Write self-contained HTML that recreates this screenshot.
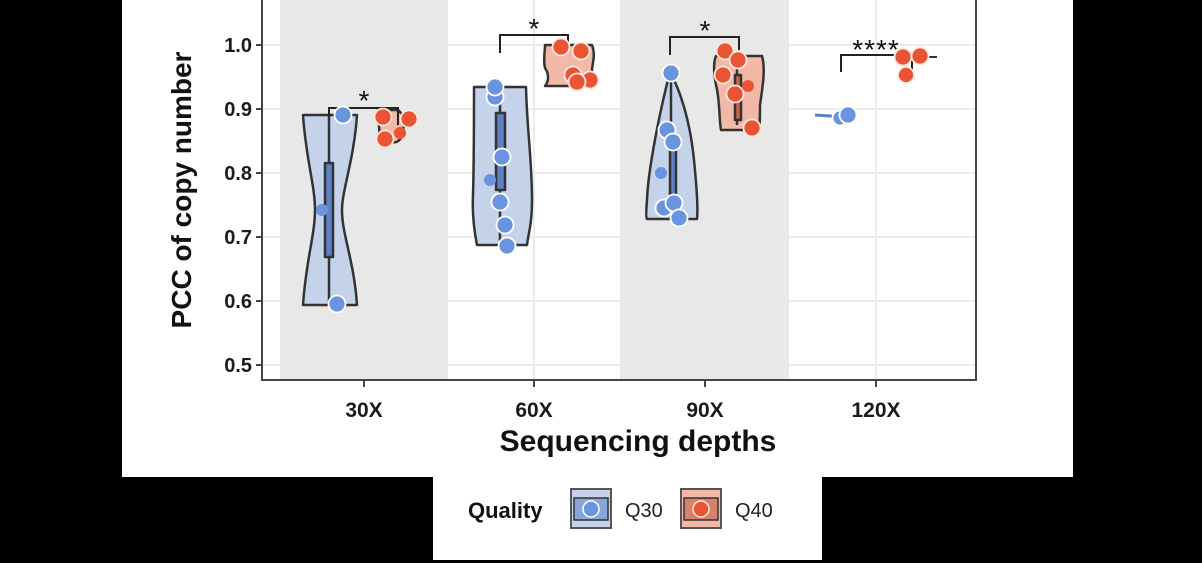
<!DOCTYPE html>
<html><head><meta charset="utf-8"><style>
html,body{margin:0;padding:0;background:#000;}
svg{display:block;}
text{font-family:"Liberation Sans",Arial,sans-serif;}
</style></head><body>
<svg width="1202" height="563" viewBox="0 0 1202 563" xmlns="http://www.w3.org/2000/svg">
<rect x="0" y="0" width="1202" height="563" fill="#000"/>
<rect x="122" y="0" width="951" height="477" fill="#fff"/>
<rect x="433" y="477" width="389" height="83" fill="#fff"/>
<rect x="280" y="0" width="168" height="380" fill="#e8e8e8"/>
<rect x="620" y="0" width="169" height="380" fill="#e8e8e8"/>
<g stroke="#ebebeb" stroke-width="2">
<line x1="448" y1="45" x2="620" y2="45"/><line x1="789" y1="45" x2="975" y2="45"/>
<line x1="448" y1="109" x2="620" y2="109"/><line x1="789" y1="109" x2="975" y2="109"/>
<line x1="448" y1="173" x2="620" y2="173"/><line x1="789" y1="173" x2="975" y2="173"/>
<line x1="448" y1="237" x2="620" y2="237"/><line x1="789" y1="237" x2="975" y2="237"/>
<line x1="448" y1="301" x2="620" y2="301"/><line x1="789" y1="301" x2="975" y2="301"/>
<line x1="448" y1="365" x2="620" y2="365"/><line x1="789" y1="365" x2="975" y2="365"/>
<line x1="263" y1="45" x2="280" y2="45"/><line x1="263" y1="109" x2="280" y2="109"/><line x1="263" y1="173" x2="280" y2="173"/><line x1="263" y1="237" x2="280" y2="237"/><line x1="263" y1="301" x2="280" y2="301"/><line x1="263" y1="365" x2="280" y2="365"/>
<line x1="534" y1="0" x2="534" y2="380"/><line x1="876" y1="0" x2="876" y2="380"/>
</g>
<polyline points="262,0 262,380 976,380 976,0" fill="none" stroke="#444" stroke-width="2"/>
<g stroke="#444" stroke-width="2">
<line x1="256" y1="45" x2="262" y2="45"/><line x1="256" y1="109" x2="262" y2="109"/><line x1="256" y1="173" x2="262" y2="173"/><line x1="256" y1="237" x2="262" y2="237"/><line x1="256" y1="301" x2="262" y2="301"/><line x1="256" y1="365" x2="262" y2="365"/>
<line x1="364" y1="380" x2="364" y2="387"/><line x1="534" y1="380" x2="534" y2="387"/><line x1="705" y1="380" x2="705" y2="387"/><line x1="876" y1="380" x2="876" y2="387"/>
</g>
<g font-size="20" font-weight="bold" fill="#1a1a1a" text-anchor="end">
<text x="252" y="52">1.0</text><text x="252" y="116">0.9</text><text x="252" y="180">0.8</text><text x="252" y="244">0.7</text><text x="252" y="308">0.6</text><text x="252" y="372">0.5</text>
</g>
<g font-size="21" font-weight="bold" fill="#1a1a1a" text-anchor="middle">
<text x="364" y="417">30X</text><text x="534" y="417">60X</text><text x="705" y="417">90X</text><text x="876" y="417">120X</text>
</g>
<text x="638" y="451" font-size="30" font-weight="bold" fill="#111" text-anchor="middle">Sequencing depths</text>
<text transform="translate(191,190) rotate(-90)" font-size="28" font-weight="bold" fill="#111" text-anchor="middle">PCC of copy number</text>

<g stroke="#333" stroke-width="2.5" stroke-linejoin="round">
<path d="M303,115 L357,115 C354,160 342,190 342,210 C342,235 354,260 357,305 L303,305 C306,260 315,235 315,210 C315,185 306,160 303,115 Z" fill="#c5d3ea"/>
<line x1="329" y1="115" x2="329" y2="305"/>
<rect x="325" y="163" width="8" height="94" fill="#5d7fc4"/>
<path d="M378,110 L398,110 C405,115 405,125 402,135 C400,142 395,143 392,142 L380,142 Z" fill="#f2b8a8"/>
<path d="M474,87 L526,87 C527,130 532,160 532,200 C532,225 528,235 527,245 L477,245 C474,230 472,215 473,195 C474,160 474,120 474,87 Z" fill="#c5d3ea"/>
<line x1="500" y1="87" x2="500" y2="245"/>
<rect x="496" y="113" width="9" height="77" fill="#5d7fc4"/>
<path d="M545,45 L592,45 C596,55 592,65 592,70 C592,78 596,82 590,86 L545,86 C550,80 548,72 545,68 C543,60 545,52 545,45 Z" fill="#f2b8a8"/>
<path d="M670,72 C660,110 648,170 647,200 C646,212 646,218 647,219 L697,219 C698,210 697,190 694,160 C690,120 680,90 670,72 Z" fill="#c5d3ea"/>
<line x1="671" y1="72" x2="671" y2="219"/>
<rect x="670" y="150" width="6" height="45" fill="#5d7fc4"/>
<path d="M716,56 L762,56 C766,70 762,90 760,105 C760,118 760,128 758,130 L721,130 C719,120 720,100 716,85 C713,70 714,60 716,56 Z" fill="#f2b8a8"/>
<line x1="737" y1="60" x2="737" y2="125"/>
<rect x="735" y="75" width="6" height="45" fill="#c4654a"/>
</g>
<g stroke="#222" stroke-width="2" fill="none">
<polyline points="329,117 329,108 398,108 398,125"/>
<polyline points="500,53 500,35 568,35 568,48"/>
<polyline points="670,55 670,37 739,37 739,50"/>
<polyline points="841,72 841,55 912,55 912,70"/>
</g>
<g font-size="28" fill="#111" text-anchor="middle">
<text x="364" y="110">*</text><text x="534" y="38">*</text><text x="705" y="40">*</text><text x="876" y="59" letter-spacing="1">****</text>
</g>
<line x1="815" y1="115" x2="845" y2="117" stroke="#5d7fc4" stroke-width="3"/>
<line x1="915" y1="57" x2="937" y2="57" stroke="#333" stroke-width="2"/>
<g fill="#6b94e0" stroke="#fff" stroke-width="1.8">
<circle cx="343" cy="115" r="8.5"/><circle cx="322" cy="210" r="6" stroke="none"/><circle cx="337" cy="304" r="8.5"/>
<circle cx="495" cy="97" r="8.5"/><circle cx="495" cy="87" r="8.5"/><circle cx="502" cy="157" r="8.5"/><circle cx="490" cy="180" r="6" stroke="none"/><circle cx="500" cy="202" r="8.5"/><circle cx="505" cy="225" r="8.5"/><circle cx="507" cy="246" r="8.5"/>
<circle cx="671" cy="73" r="8.5"/><circle cx="667" cy="130" r="8.5"/><circle cx="673" cy="142" r="8.5"/><circle cx="661" cy="173" r="6" stroke="none"/><circle cx="664" cy="208" r="8.5"/><circle cx="674" cy="203" r="8.5"/><circle cx="679" cy="218" r="8.5"/>
<circle cx="840" cy="118" r="7.5"/><circle cx="848" cy="115" r="8.5"/>
</g>
<g fill="#ea5434" stroke="#fde8df" stroke-width="1.8">
<circle cx="383" cy="117" r="8.5"/><circle cx="409" cy="119" r="8.5"/><circle cx="385" cy="139" r="8.5"/><circle cx="400" cy="133" r="6" stroke="none"/>
<circle cx="561" cy="47" r="8.5"/><circle cx="581" cy="51" r="8.5"/><circle cx="573" cy="75" r="8.5"/><circle cx="590" cy="80" r="8.5"/><circle cx="577" cy="82" r="8.5"/>
<circle cx="725" cy="51" r="8.5"/><circle cx="738" cy="60" r="8.5"/><circle cx="723" cy="75" r="8.5"/><circle cx="735" cy="94" r="8.5"/><circle cx="748" cy="86" r="6" stroke="none"/><circle cx="752" cy="128" r="8.5"/>
<circle cx="903" cy="57" r="8.5"/><circle cx="920" cy="56" r="8.5"/><circle cx="906" cy="75" r="8"/>
</g>
<text x="468" y="518" font-size="22" font-weight="bold" fill="#111">Quality</text>
<rect x="571" y="489" width="40" height="39" fill="#c5d3ea" stroke="#555" stroke-width="2"/>
<rect x="574" y="498" width="34" height="22" fill="#8aa6d8" stroke="#333" stroke-width="1.5"/>
<circle cx="591" cy="509" r="8" fill="#6b94e0" stroke="#fff" stroke-width="1.5"/>
<rect x="681" y="489" width="40" height="39" fill="#f2b8a8" stroke="#555" stroke-width="2"/>
<rect x="684" y="498" width="34" height="22" fill="#d8806a" stroke="#333" stroke-width="1.5"/>
<circle cx="701" cy="509" r="8" fill="#ea5434" stroke="#fde8df" stroke-width="1.5"/>
<text x="625" y="517" font-size="20" fill="#222">Q30</text>
<text x="735" y="517" font-size="20" fill="#222">Q40</text>
</svg>
</body></html>
